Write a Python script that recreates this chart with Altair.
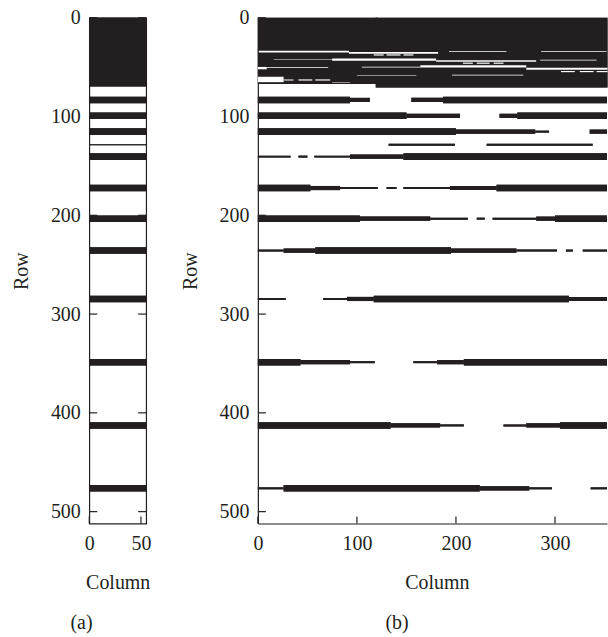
import altair as alt
import pandas as pd

INK = "#231f20"
FONT = "Liberation Serif"
FS = 20

N_ROWS = 512
A_COLS = 55
B_COLS = 352.5
A_W, B_W, H = 57, 350, 507

THICK, MID, THIN, HAIR = 6.6, 4.2, 2.0, 1.0

row_ticks = [0, 100, 200, 300, 400, 500]
a_col_ticks = [0, 50]
b_col_ticks = [0, 100, 200, 300]

# centres (row index) of the horizontal bands
band_rows = [83.2, 99.3, 115.3, 128.6, 140.6, 172.4, 203.4, 235.7, 284.7, 348.7, 412.7, 476.4]

# ---- panel (a): dense top block + full-width bands
a_block = [(0, 69.7, 0, 55)]            # (row0, row1, col0, col1)
a_band_thickness = [THICK, THICK, THICK, HAIR, THICK, THICK, THICK, THICK, THICK, THICK, THICK, THICK]

# ---- panel (b): dense top block, white gaps inside it, then banded segments
b_block = [(0, 67.0, 0, 121), (0, 70.7, 119, 353)]
b_gaps = [  # (row centre, thickness, col0, col1)
    (34.3, 1.8, 1, 92), (35.6, 1.6, 92, 182),
    (37.7, 1.2, 117, 127), (37.7, 1.2, 130, 144), (37.7, 1.2, 147, 157),
    (34.3, 0.7, 193, 251), (34.3, 0.7, 286, 352),
    (42.0, 0.7, 16, 75), (42.4, 2.2, 75, 180), (43.7, 1.5, 180, 281),
    (46.0, 1.2, 207, 217), (46.0, 1.2, 221, 234), (46.0, 1.2, 238, 248),
    (43.0, 0.7, 285, 342),
    (51.0, 2.4, 0, 9), (50.5, 0.7, 9, 71), (50.0, 0.7, 105, 164),
    (49.2, 2.2, 164, 271), (51.7, 2.0, 271, 353),
    (54.5, 1.2, 306, 320), (54.5, 1.2, 325, 339), (54.5, 1.2, 342, 353),
    (58.5, 0.7, 100, 160), (58.0, 0.7, 196, 268),
    (62.5, 5.5, 0, 26), (63.0, 1.2, 26, 36), (63.0, 1.2, 41, 55), (63.0, 1.2, 58, 73),
    (65.3, 0.7, 75, 93),
]
b_band_segments = [
    [(0, 93, THICK), (93, 113, MID), (155, 187, MID), (187, 353, THICK)],
    [(0, 150, THICK), (150, 204, MID), (244, 262, MID), (262, 353, THICK)],
    [(0, 200, THICK), (200, 280, MID), (280, 294, THIN), (335, 353, MID)],
    [(132, 199, THIN), (231, 338, THIN)],
    [(0, 33, THIN), (41, 50, THIN), (57, 93, THIN), (93, 147, MID), (147, 353, THICK)],
    [(0, 53, THICK), (53, 83, MID), (83, 121, THIN), (130, 140, THIN), (147, 194, THIN),
     (194, 241, MID), (241, 353, THICK)],
    [(0, 103, THICK), (103, 174, MID), (174, 212, THIN), (221, 229, THIN), (237, 281, THIN),
     (281, 300, MID), (300, 353, THICK)],
    [(0, 26, THIN), (26, 58, MID), (58, 195, THICK), (195, 261, MID), (261, 302, THIN),
     (311, 318, THIN), (328, 353, THIN)],
    [(0, 28, THIN), (66, 90, THIN), (90, 117, MID), (117, 314, THICK), (314, 353, MID)],
    [(0, 43, THICK), (43, 93, MID), (93, 118, THIN), (157, 181, THIN), (181, 208, MID),
     (208, 353, THICK)],
    [(0, 134, THICK), (134, 184, MID), (184, 208, THIN), (248, 271, THIN), (271, 305, MID),
     (305, 353, THICK)],
    [(0, 26, THIN), (26, 224, THICK), (224, 274, MID), (274, 297, THIN), (336, 353, THIN)],
]


def rect_frame(blocks):
    return pd.DataFrame([dict(r0=a, r1=b, c0=c, c1=d) for a, b, c, d in blocks])


def gap_frame(gaps):
    return pd.DataFrame([dict(r0=r - t / 2, r1=r + t / 2, c0=c0, c1=c1) for r, t, c0, c1 in gaps])


a_rects = list(a_block)
for r, t in zip(band_rows, a_band_thickness):
    a_rects.append((r - t / 2, r + t / 2, 0, A_COLS))
a_df = rect_frame(a_rects)

b_rects = list(b_block)
for r, segs in zip(band_rows, b_band_segments):
    for c0, c1, t in segs:
        b_rects.append((r - t / 2, r + t / 2, c0, min(c1, B_COLS)))
b_df = rect_frame(b_rects)
b_gap_df = gap_frame(b_gaps)

axis_common = dict(
    labelFont=FONT, labelFontSize=FS, labelColor=INK,
    titleFont=FONT, titleFontSize=FS, titleFontWeight="normal", titleColor=INK,
    ticks=False, grid=False, domainColor=INK, domainWidth=1.2,
)


def panel(df, gaps, ncols, width, col_ticks, label, border, title_x=None, title_dx=0):
    ys = alt.Scale(domain=[0, N_ROWS], reverse=True, nice=False, zero=False)
    xs = alt.Scale(domain=[0, ncols], nice=False, zero=False)
    xaxis_kw = dict(values=col_ticks, title="Column", labelPadding=10, titlePadding=19,
                    labelFlush=False, domain=not border, **axis_common)
    if title_x is not None:
        xaxis_kw["titleX"] = title_x
    xaxis = alt.Axis(**xaxis_kw)
    yaxis = alt.Axis(values=row_ticks, title="Row", labelPadding=9, titlePadding=18.5,
                     domain=not border, **axis_common)

    base = alt.Chart(df).mark_rect(color=INK).encode(
        x=alt.X("c0:Q", scale=xs, axis=xaxis), x2="c1:Q",
        y=alt.Y("r0:Q", scale=ys, axis=yaxis), y2="r1:Q",
    )
    tdf = pd.DataFrame({"r0": row_ticks})
    left_ticks = alt.Chart(tdf).mark_rule(color=INK, strokeWidth=1.2).encode(
        y=alt.Y("r0:Q", scale=ys, axis=yaxis), x=alt.value(0), x2=alt.value(8))
    cdf = pd.DataFrame({"c0": col_ticks})
    bottom_ticks = alt.Chart(cdf).mark_rule(color=INK, strokeWidth=1.2).encode(
        x=alt.X("c0:Q", scale=xs, axis=xaxis), y=alt.value(H - 7), y2=alt.value(H))
    layers = [base, left_ticks, bottom_ticks]
    if border:
        right_ticks = alt.Chart(tdf).mark_rule(color=INK, strokeWidth=1.2).encode(
            y=alt.Y("r0:Q", scale=ys, axis=yaxis), x=alt.value(width - 8), x2=alt.value(width))
        layers.append(right_ticks)
    # redraw data above ticks so bands hide ticks
    layers.append(base)
    if gaps is not None:
        layers.append(alt.Chart(gaps).mark_rect(color="white").encode(
            x=alt.X("c0:Q", scale=xs, axis=xaxis), x2="c1:Q",
            y=alt.Y("r0:Q", scale=ys, axis=yaxis), y2="r1:Q"))
    view = alt.ViewBackground(stroke=INK, strokeWidth=1.2) if border else alt.ViewBackground(strokeOpacity=0)
    return alt.layer(*layers).properties(
        width=width, height=H, view=view,
        title=alt.TitleParams(text=label, orient="bottom", anchor="middle", frame="bounds",
                              font=FONT, fontSize=FS, fontWeight="normal", color=INK,
                              offset=21, dx=title_dx),
    )


pa = panel(a_df, None, A_COLS, A_W, a_col_ticks, "(a)", True)
pb = panel(b_df, b_gap_df, B_COLS, B_W, b_col_ticks, "(b)", False, title_x=179.4, title_dx=3)

chart = alt.hconcat(pa, pb, spacing=28).properties(
    padding={"left": 10.5, "top": 6, "right": 0, "bottom": 0},
    background="white",
).configure_view(stroke=INK, strokeWidth=1.2)

chart.save("out.html", embed_options={"renderer": "svg", "actions": False})
